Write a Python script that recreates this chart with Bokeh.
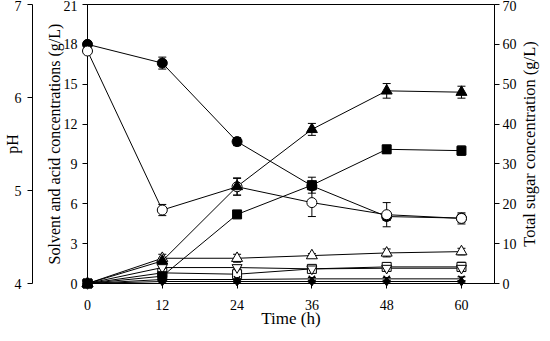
import math
from bokeh.plotting import figure
from bokeh.models import Range1d, LinearAxis, FixedTicker, Whisker, ColumnDataSource, TeeHead
from bokeh.core.properties import value
from bokeh.embed import file_html
from bokeh.resources import INLINE

# ---------------- data ----------------
time = [0, 12, 24, 36, 48, 60]
x_ticks = [0, 12, 24, 36, 48, 60]
conc_ticks = [0, 3, 6, 9, 12, 15, 18, 21]
ph_ticks = [4, 5, 6, 7]
sugar_ticks = [0, 10, 20, 30, 40, 50, 60, 70]

# total sugar (g/L, right axis) - filled circles
sugar = [60.0, 55.3, 35.6, 24.5, 16.8, 16.4]
sugar_err = [0.0, 1.5, 1.0, 1.0, 1.0, 1.0]
# pH (outer left axis) - open circles
ph = [6.50, 4.79, 5.04, 4.87, 4.74, 4.70]
ph_err = [0.0, 0.06, 0.09, 0.15, 0.13, 0.06]
# solvents / acids (g/L, inner left axis)
filled_triangle = [0.0, 1.7, 7.3, 11.6, 14.5, 14.4]
filled_triangle_err = [0.0, 0.2, 0.65, 0.45, 0.55, 0.45]
filled_square = [0.0, 0.55, 5.2, 7.4, 10.1, 10.0]
filled_square_err = [0.0, 0.1, 0.15, 0.6, 0.3, 0.35]
open_triangle = [0.0, 1.9, 1.9, 2.1, 2.3, 2.4]
open_triangle_err = [0.0, 0.3, 0.3, 0.15, 0.3, 0.25]
open_inv_triangle = [0.0, 1.2, 1.2, 1.1, 1.15, 1.15]
open_inv_triangle_err = [0.0, 0.1, 0.1, 0.1, 0.1, 0.1]
open_square = [0.0, 0.8, 0.7, 1.1, 1.25, 1.25]
open_square_err = [0.0, 0.1, 0.1, 0.1, 0.3, 0.35]
cross = [0.0, 0.3, 0.3, 0.35, 0.35, 0.35]
cross_err = [0.0, 0.1, 0.1, 0.1, 0.1, 0.15]
filled_diamond = [0.0, 0.15, 0.15, 0.15, 0.15, 0.15]
filled_diamond_err = [0.0, 0.05, 0.05, 0.05, 0.05, 0.05]

x_title = "Time (h)"
left_title = "Solvent and acid concentrations (g/L)"
ph_title = "pH"
right_title = "Total sugar concentration (g/L)"

FONT = "Liberation Serif"
TICK_SIZE = "14px"

p = figure(width=540, height=333, output_backend="svg", toolbar_location=None,
           x_range=Range1d(0, 65.3), y_range=Range1d(0, 21),
           min_border_left=87, min_border_right=46, min_border_top=4, min_border_bottom=50)
p.extra_y_ranges = {"ph": Range1d(4, 7), "sugar": Range1d(0, 70)}
p.xgrid.visible = False
p.ygrid.visible = False
p.outline_line_color = "black"
p.outline_line_width = 1
p.background_fill_color = "white"
p.border_fill_color = "white"


def style_axis(ax, ticks, label, title_size="16px", tick_out=5, label_standoff=4, title_standoff=4):
    ax.ticker = FixedTicker(ticks=ticks)
    ax.axis_label = label
    ax.axis_label_text_font = FONT
    ax.axis_label_text_font_style = "normal"
    ax.axis_label_text_font_size = title_size
    ax.axis_label_text_color = "black"
    ax.major_label_text_font = FONT
    ax.major_label_text_font_size = TICK_SIZE
    ax.major_label_text_color = "black"
    ax.axis_line_color = "black"
    ax.major_tick_line_color = "black"
    ax.major_tick_out = tick_out
    ax.major_tick_in = 0
    ax.minor_tick_line_color = None
    ax.major_label_standoff = label_standoff
    ax.axis_label_standoff = title_standoff


style_axis(p.xaxis[0], x_ticks, x_title, title_size="17px", label_standoff=11, title_standoff=-4)
style_axis(p.yaxis[0], conc_ticks, left_title, label_standoff=5, title_standoff=-2)

# blank spacer between the two left axes (white tick on white background, no label)
spacer = LinearAxis(y_range_name="ph", ticker=FixedTicker(ticks=[4.5]), axis_line_color=None,
                    major_tick_line_color="white", minor_tick_line_color=None,
                    major_tick_out=10, major_tick_in=0, major_label_standoff=0,
                    major_label_overrides={4.5: ""})
p.add_layout(spacer, "left")

ph_axis = LinearAxis(y_range_name="ph")
style_axis(ph_axis, ph_ticks, ph_title, label_standoff=6, title_standoff=-9)
p.add_layout(ph_axis, "left")

sugar_axis = LinearAxis(y_range_name="sugar")
style_axis(sugar_axis, sugar_ticks, None, label_standoff=3, title_standoff=0)
p.add_layout(sugar_axis, "right")

# right-hand axis title, reading bottom to top (drawn above the frame clip)
p.text(x=[70.9], y=[35], text=[right_title], angle=math.pi / 2, y_range_name="sugar",
       text_align="center", text_baseline="middle", level="overlay",
       text_font=value(FONT), text_font_size="16.5px", text_color="black")

# ---------------- series ----------------
series = [
    # (values, errors, marker, size, fill, range)
    (sugar, sugar_err, "circle", 10, "black", "sugar"),
    (open_square, open_square_err, "square", 9, "white", "default"),
    (open_inv_triangle, open_inv_triangle_err, "inverted_triangle", 10, "white", "default"),
    (filled_diamond, filled_diamond_err, "diamond", 9, "black", "default"),
    (cross, cross_err, "x", 9, "black", "default"),
    (open_triangle, open_triangle_err, "triangle", 11, "white", "default"),
    (filled_square, filled_square_err, "square", 9, "black", "default"),
    (ph, ph_err, "circle", 10, "white", "ph"),
    (filled_triangle, filled_triangle_err, "triangle", 11, "black", "default"),
]

for vals, errs, marker, size, fill, rng in series:
    p.line(time, vals, line_color="black", line_width=1, y_range_name=rng)

for vals, errs, marker, size, fill, rng in series:
    xs = [t for t, e in zip(time, errs) if e > 0]
    up = [v + e for v, e in zip(vals, errs) if e > 0]
    lo = [v - e for v, e in zip(vals, errs) if e > 0]
    src = ColumnDataSource(dict(x=xs, upper=up, lower=lo))
    w = Whisker(source=src, base="x", upper="upper", lower="lower", dimension="height",
                line_color="black", line_width=1, y_range_name=rng,
                upper_head=TeeHead(size=8, line_color="black", line_width=1),
                lower_head=TeeHead(size=8, line_color="black", line_width=1))
    p.add_layout(w)

for vals, errs, marker, size, fill, rng in series:
    p.scatter(time, vals, marker=marker, size=size, fill_color=fill, line_color="black",
              line_width=1.5 if marker == "x" else 1, y_range_name=rng, level="overlay")

open("out.html", "w").write(file_html(p, INLINE))
